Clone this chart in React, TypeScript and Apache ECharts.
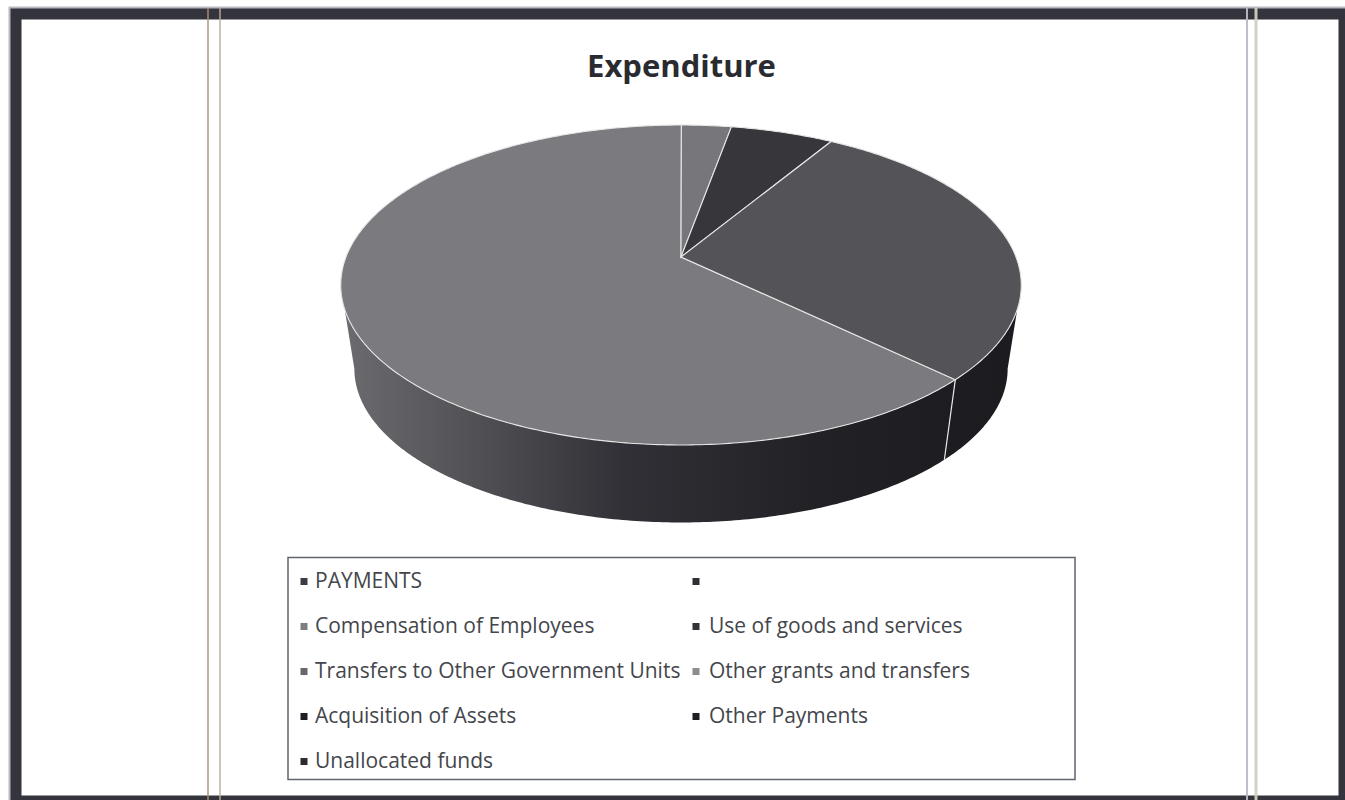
import React, { useEffect, useRef } from "react";
import * as echarts from "echarts";

const titleText = "Expenditure";
const categories = [
  "PAYMENTS",
  " ",
  "Compensation of Employees",
  "Use of goods and services",
  "Transfers to Other Government Units",
  "Other grants and transfers",
  "Acquisition of Assets",
  "Other Payments",
  "Unallocated funds",
];
const shares = [0, 0, 62.8, 2.8, 5.8, 28.6, 0, 0, 0];
const topColors = ["#3c3c44", "#2e2e33", "#7b7b7f", "#77777b", "#36363b", "#535358", "#222226", "#222226", "#2c2c30"];
const swatchColors = ["#3c3c44", "#2e2e33", "#7d7d82", "#333338", "#66666a", "#8d8d90", "#1e1e22", "#1e1e22", "#2c2c30"];

const START = 134;
const CX = 681, CY = 257, R = 335, PA = 110.1, PC = -0.175;
const DROP = 85, SHRINK = 0.96;
const total = shares.reduce((a, b) => a + b, 0);

function project(deg: number, bottom = false): number[] {
  const t = (deg * Math.PI) / 180;
  const u = Math.sin(t), v = -Math.cos(t);
  const w = 1 + PC * v;
  const dx = (R * u) / w;
  const dy = (PA * v + CY) / w - CY;
  return bottom
    ? [CX + dx * SHRINK, CY + DROP + dy * SHRINK]
    : [CX + dx, CY + dy];
}
function arc(a: number, b: number, bottom = false): number[][] {
  const n = Math.max(2, Math.ceil(Math.abs(b - a) * 1.5));
  const pts: number[][] = [];
  for (let i = 0; i <= n; i++) pts.push(project(a + ((b - a) * i) / n, bottom));
  return pts;
}
function range(i: number): [number, number] {
  let s = START;
  for (let k = 0; k < i; k++) s += (shares[k] / total) * 360;
  return [s, s + (shares[i] / total) * 360];
}

const sliceData = shares.map((v, i) => [i, v]);

const wallFill = (dark: boolean) =>
  new echarts.graphic.LinearGradient(
    340, 0, 1020, 0,
    dark
      ? [{ offset: 0, color: "#26262b" }, { offset: 1, color: "#1b1b20" }]
      : [
          { offset: 0, color: "#6c6c70" },
          { offset: 0.2, color: "#505055" },
          { offset: 0.42, color: "#303036" },
          { offset: 0.7, color: "#212126" },
          { offset: 1, color: "#1a1a1f" },
        ],
    true
  );

function renderWall(_p: any, api: any) {
  const i = api.value(0);
  if (!api.value(1)) return null;
  const [a, b] = range(i);
  const children: any[] = [];
  for (const k of [0, 360]) {
    const lo = Math.max(a, 100 + k), hi = Math.min(b, 260 + k);
    if (hi <= lo) continue;
    const pts = [...arc(lo, hi), ...arc(lo, hi, true).reverse()];
    children.push({
      type: "polygon",
      shape: { points: pts },
      style: { fill: wallFill(k > 0), stroke: "none" },
    });
    if (lo === a) {
      const p0 = project(a), p1 = project(a, true);
      children.push({
        type: "line",
        z2: 5,
        shape: { x1: p0[0], y1: p0[1], x2: p1[0], y2: p1[1] },
        style: { stroke: "#e8e8e8", lineWidth: 1.2 },
      });
    }
  }
  return { type: "group", children };
}

function renderTop(_p: any, api: any) {
  const i = api.value(0);
  if (!api.value(1)) return null;
  const [a, b] = range(i);
  return {
    type: "polygon",
    shape: { points: [[CX, CY], ...arc(a, b)] },
    style: { fill: topColors[i], stroke: "#e6e6e6", lineWidth: 1.1 },
  };
}

const ROWS = [580, 625, 670, 715, 760];
const COLS = [[304, 315], [696, 709]];

function legendGraphics() {
  const out: any[] = [
    {
      type: "rect", z: 3,
      shape: { x: 288, y: 557.5, width: 787, height: 222 },
      style: { fill: "#fff", stroke: "#5f636e", lineWidth: 1.5 },
    },
  ];
  categories.forEach((name, i) => {
    const row = ROWS[Math.floor(i / 2)];
    const col = COLS[i % 2];
    out.push({
      type: "rect", z: 4,
      shape: { x: col[0] - 3.5, y: row - 2, width: 7, height: 7 },
      style: { fill: swatchColors[i] },
    });
    out.push({
      type: "text", z: 4, x: col[1], y: row,
      style: {
        text: name, fill: "#44464c",
        font: "400 21px 'Open Sans'", textAlign: "left", textVerticalAlign: "middle",
      },
    });
  });
  return out;
}

const frameGraphics = [
  { type: "rect", z: 1, shape: { x: 16, y: 14, width: 1328, height: 787 },
    style: { fill: "#fff", stroke: "#b9bac0", lineWidth: 15 } },
  { type: "rect", z: 1, shape: { x: 16, y: 14, width: 1328, height: 787 },
    style: { fill: "#fff", stroke: "#34353c", lineWidth: 11 } },
  { type: "rect", z: 1, shape: { x: 22, y: 20, width: 1316, height: 775 }, style: { fill: "#fff" } },
  ...[[208, "#a8907e", 1.5], [220, "#bcaa98", 1.5], [1247, "#bdb8c6", 2], [1256, "#cdd0c0", 3]].map(
    ([x, c, w]: any) => ({
      type: "line", z: 2,
      shape: { x1: x, y1: 8, x2: x, y2: 800 },
      style: { stroke: c, lineWidth: w, opacity: 0.95 },
    })
  ),
];

export default function App() {
  const ref = useRef<HTMLDivElement>(null);
  useEffect(() => {
    const chart = echarts.init(ref.current!, null, { renderer: "svg" });
    chart.setOption({
      animation: false,
      backgroundColor: "#ffffff",
      graphic: {
        elements: [
          ...frameGraphics,
          ...legendGraphics(),
          {
            type: "text", z: 6, x: 681.5, y: 65,
            style: {
              text: titleText, fill: "#2a2b30",
              font: "700 31px 'Open Sans'", textAlign: "center", textVerticalAlign: "middle",
            },
          },
        ],
      },
      series: [
        { type: "custom", name: "wall", coordinateSystem: "none", z: 3, silent: true, renderItem: renderWall, data: sliceData },
        { type: "custom", name: "top", coordinateSystem: "none", z: 4, silent: true, renderItem: renderTop, data: sliceData },
      ],
    });
    return () => chart.dispose();
  }, []);
  return <div ref={ref} style={{ position: "fixed", left: 0, top: 0, width: 1345, height: 800 }} />;
}
